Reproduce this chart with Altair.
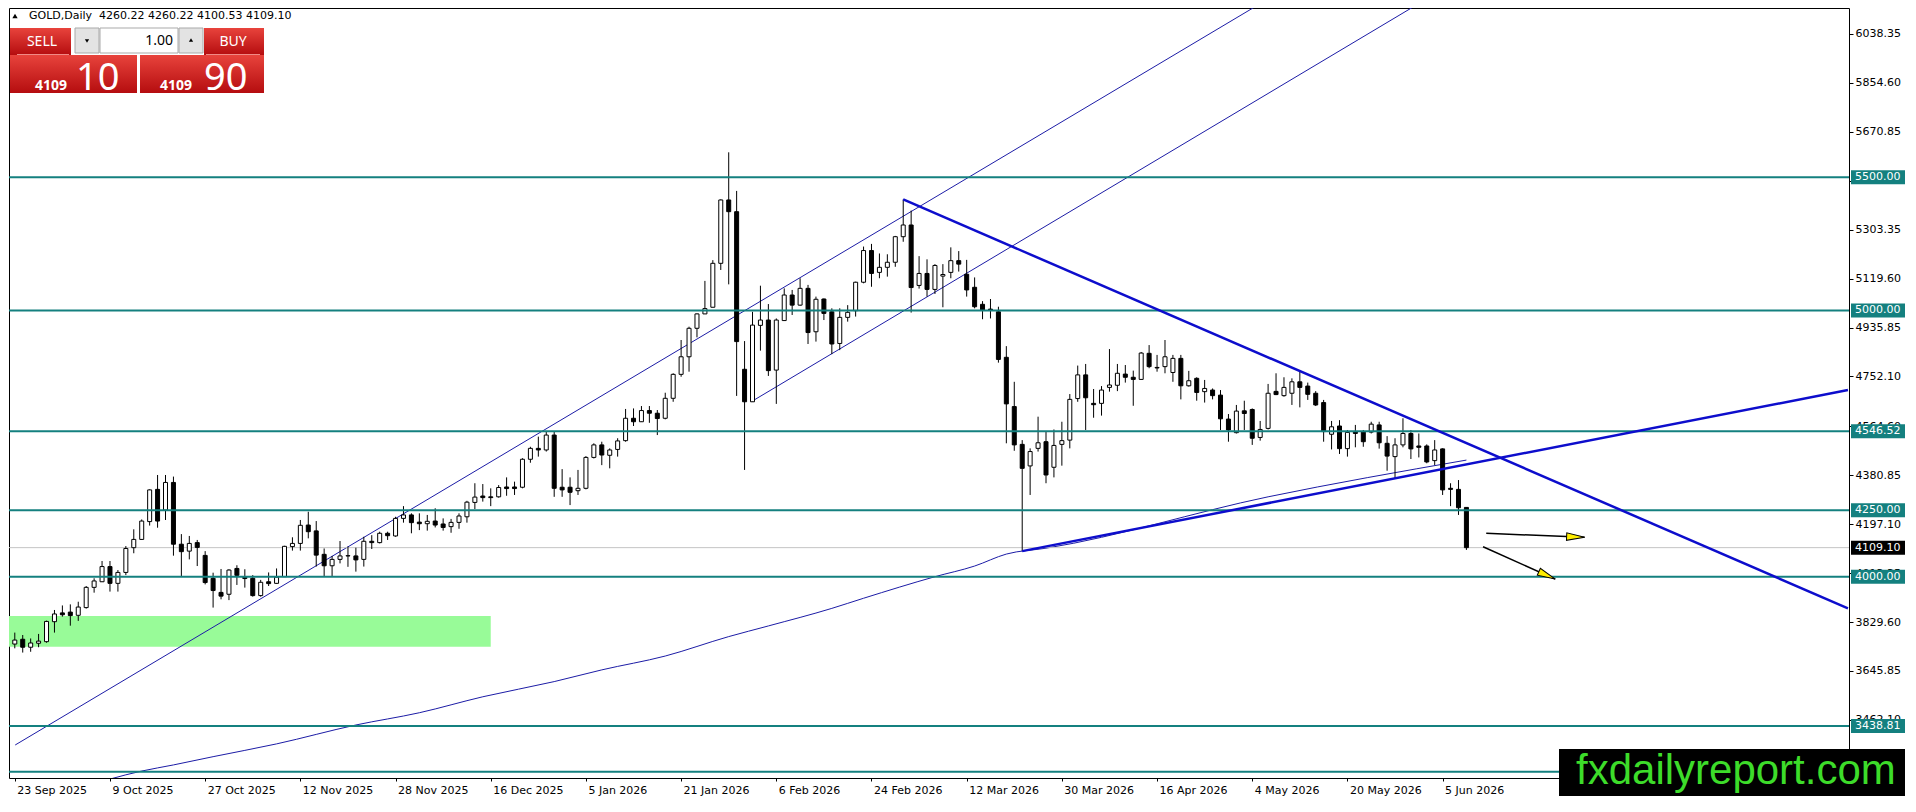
import math
import altair as alt
import pandas as pd

# ---------------- values ----------------
opens = [3747, 3765, 3735, 3750, 3756, 3831, 3864, 3867, 3855, 3884,
         3960, 3981, 4038, 3975, 4016, 4109, 4140, 4207, 4328, 4250,
         4354, 4122, 4096, 4128, 4080, 3994, 3941, 3934, 4031, 3998,
         3994, 3929, 3981, 3975, 4000, 4113, 4125, 4194, 4172, 4084,
         4041, 4065, 4078, 4078, 4065, 4133, 4128, 4163, 4153, 4219,
         4232, 4205, 4199, 4209, 4198, 4188, 4204, 4225, 4279, 4303,
         4300, 4300, 4337, 4337, 4336, 4441, 4482, 4476, 4532, 4336,
         4336, 4323, 4332, 4448, 4495, 4456, 4478, 4511, 4595, 4582,
         4624, 4614, 4595, 4670, 4760, 4826, 4933, 4987, 5012, 5177,
         5415, 5371, 4779, 4657, 4944, 4964, 4776, 4962, 5058, 5020,
         5083, 4920, 5043, 4995, 4876, 4974, 4999, 5106, 5225, 5143,
         5162, 5181, 5277, 5321, 5094, 5139, 5079, 5129, 5143, 5187,
         5136, 5087, 5023, 5005, 4995, 4824, 4639, 4497, 4416, 4482,
         4507, 4411, 4497, 4513, 4669, 4758, 4651, 4651, 4711, 4719,
         4761, 4749, 4741, 4839, 4786, 4789, 4767, 4820, 4717, 4745,
         4695, 4701, 4682, 4592, 4541, 4623, 4628, 4523, 4557, 4696,
         4680, 4689, 4732, 4716, 4689, 4654, 4535, 4566, 4481, 4545,
         4543, 4543, 4570, 4501, 4451, 4495, 4538, 4491, 4491, 4436,
         4480, 4332, 4328, 4260.22]
highs = [3790, 3781, 3768, 3785, 3835, 3875, 3892, 3896, 3906, 3965,
         3994, 4059, 4059, 4025, 4115, 4178, 4215, 4328, 4382, 4382,
         4376, 4160, 4153, 4138, 4096, 4015, 4029, 4028, 4043, 4028,
         4006, 3988, 4016, 4031, 4116, 4148, 4213, 4244, 4209, 4106,
         4078, 4134, 4113, 4109, 4150, 4156, 4169, 4169, 4225, 4265,
         4238, 4238, 4232, 4257, 4219, 4217, 4238, 4285, 4351, 4348,
         4332, 4344, 4373, 4357, 4445, 4488, 4526, 4545, 4545, 4404,
         4373, 4401, 4453, 4501, 4507, 4482, 4520, 4630, 4632, 4641,
         4641, 4626, 4691, 4764, 4889, 4939, 4989, 5111, 5189, 5417,
         5594, 5449, 4885, 4995, 5093, 5024, 4970, 5083, 5077, 5121,
         5096, 5052, 5045, 5008, 5008, 5020, 5108, 5240, 5250, 5214,
         5211, 5280, 5417, 5375, 5204, 5192, 5174, 5174, 5237, 5223,
         5190, 5124, 5035, 5043, 5014, 4866, 4732, 4513, 4482, 4601,
         4545, 4553, 4582, 4686, 4793, 4799, 4705, 4716, 4855, 4799,
         4795, 4774, 4844, 4870, 4833, 4889, 4833, 4833, 4773, 4749,
         4739, 4707, 4701, 4611, 4645, 4661, 4632, 4585, 4724, 4764,
         4749, 4745, 4770, 4729, 4697, 4664, 4585, 4588, 4551, 4570,
         4551, 4582, 4582, 4528, 4520, 4595, 4551, 4538, 4497, 4513,
         4482, 4351, 4363, 4260.22]
lows = [3731, 3715, 3718, 3735, 3752, 3790, 3850, 3816, 3834, 3880,
        3940, 3980, 3944, 3944, 4006, 4088, 4138, 4192, 4184, 4213,
        4079, 4000, 4065, 4040, 3971, 3884, 3915, 3912, 3969, 3959,
        3925, 3925, 3965, 3973, 4000, 4098, 4098, 4144, 4038, 4000,
        4002, 4050, 4037, 4019, 4038, 4104, 4125, 4138, 4150, 4203,
        4163, 4175, 4173, 4185, 4173, 4165, 4180, 4203, 4254, 4282,
        4265, 4297, 4304, 4307, 4332, 4428, 4451, 4470, 4300, 4300,
        4269, 4307, 4328, 4444, 4419, 4407, 4451, 4507, 4566, 4581,
        4578, 4532, 4591, 4657, 4751, 4770, 4899, 4987, 5012, 5152,
        5098, 4679, 4401, 4657, 4849, 4754, 4649, 4962, 4983, 5018,
        4874, 4883, 4964, 4836, 4851, 4958, 4977, 5102, 5089, 5121,
        5127, 5164, 5258, 4992, 5082, 5052, 5062, 5012, 5121, 5146,
        5052, 5008, 4967, 4970, 4804, 4501, 4473, 4096, 4307, 4470,
        4351, 4373, 4417, 4482, 4657, 4551, 4597, 4605, 4695, 4697,
        4729, 4642, 4739, 4783, 4770, 4764, 4732, 4666, 4714, 4661,
        4654, 4666, 4551, 4507, 4538, 4551, 4495, 4511, 4553, 4682,
        4676, 4645, 4636, 4664, 4641, 4507, 4478, 4461, 4451, 4486,
        4488, 4538, 4481, 4398, 4369, 4486, 4442, 4448, 4426, 4419,
        4307, 4265, 4232, 4100.53]
closes = [3762, 3735, 3751, 3758, 3832, 3860, 3857, 3854, 3886, 3960,
          3984, 4038, 3975, 4016, 4106, 4140, 4209, 4326, 4209, 4354,
          4122, 4094, 4125, 4110, 3978, 3948, 3927, 4025, 4005, 3993,
          3929, 3979, 3974, 3998, 4114, 4125, 4193, 4169, 4081, 4041,
          4065, 4078, 4079, 4063, 4133, 4128, 4163, 4154, 4219, 4232,
          4203, 4199, 4208, 4194, 4185, 4204, 4228, 4280, 4299, 4297,
          4297, 4335, 4331, 4331, 4441, 4482, 4476, 4532, 4332, 4326,
          4317, 4332, 4448, 4495, 4457, 4476, 4510, 4595, 4582, 4624,
          4614, 4594, 4670, 4760, 4826, 4933, 4987, 5007, 5177, 5415,
          5371, 4883, 4657, 4945, 4964, 4774, 4964, 5058, 5020, 5083,
          4917, 5042, 4989, 4874, 4974, 4993, 5106, 5225, 5139, 5162,
          5181, 5277, 5321, 5086, 5139, 5079, 5169, 5135, 5187, 5174,
          5077, 5014, 5002, 5002, 4816, 4649, 4495, 4407, 4470, 4503,
          4382, 4493, 4511, 4666, 4758, 4672, 4646, 4701, 4720, 4764,
          4749, 4741, 4840, 4789, 4784, 4826, 4820, 4717, 4736, 4692,
          4707, 4680, 4593, 4551, 4622, 4613, 4520, 4553, 4689, 4684,
          4711, 4732, 4711, 4685, 4645, 4545, 4563, 4481, 4542, 4538,
          4507, 4573, 4503, 4453, 4495, 4538, 4480, 4486, 4431, 4476,
          4326, 4328, 4259, 4109.10]
bar_index = list(range(len(closes)))

date_tick_bars = [0, 12, 24, 36, 48, 60, 72, 84, 96, 108, 120, 132, 144, 156, 168, 180]
date_tick_labels = ["23 Sep 2025", "9 Oct 2025", "27 Oct 2025", "12 Nov 2025",
                    "28 Nov 2025", "16 Dec 2025", "5 Jan 2026", "21 Jan 2026",
                    "6 Feb 2026", "24 Feb 2026", "12 Mar 2026", "30 Mar 2026",
                    "16 Apr 2026", "4 May 2026", "20 May 2026", "5 Jun 2026"]
price_ticks = [6038.35, 5854.60, 5670.85, 5487.10, 5303.35, 5119.60, 4935.85,
               4752.10, 4564.60, 4380.85, 4197.10, 4013.35, 3829.60, 3645.85, 3462.10]
hidden_tick = 5487.10  # its label sits fully behind the 5500.00 tag in the reference

level_prices = [5500.00, 5000.00, 4546.52, 4250.00, 4000.00, 3438.81, 3267.00]
# the last level's tag is hidden under the watermark in the reference
level_labels = ["5500.00", "5000.00", "4546.52", "4250.00", "4000.00", "3438.81", ""]
last_price = 4109.10
last_label = "4109.10"

ma_bars = [8, 16, 20, 25, 33, 43, 51, 59, 68, 74, 82, 90, 95, 103, 107, 116, 121, 125, 130, 158, 183]
ma_values = [3205, 3270, 3293, 3324, 3372, 3443, 3489, 3549, 3606, 3650, 3702, 3775,
             3815, 3881, 3919, 4000, 4040, 4085, 4107, 4300, 4438]

thin_from_bar = [0.05, 93]
thin_from_price = [3367.9, 4660.0]
thin_to_bar = [160, 180]
thin_to_price = [6205.4, 6206.0]
thick_from_bar = [112, 127]
thick_from_price = [5417.0, 4096.0]
thick_to_bar = [231.1, 231.1]
thick_to_price = [3881.3, 4701.2]

arrow_from_bar = [185.5, 185.1]
arrow_from_price = [4163.0, 4112.6]
arrow_to_bar = [197.9, 194.2]
arrow_to_price = [4148.0, 3991.0]

zone_from_bar, zone_to_bar = -1, 60
zone_low, zone_high = 3737.0, 3852.0

symbol_title = "GOLD,Daily"
header_ohlc = ["4260.22", "4260.22", "4100.53", "4109.10"]
lot_size = "1.00"
sell_big, sell_small = "4109", "10"
buy_big, buy_small = "4109", "90"
watermark = "fxdailyreport.com"

# ---------------- layout ----------------
W, H = 1840, 770
X_DOM = [-0.1, 230.6]
Y_DOM = [3243.9, 6136.0]
PX_PER_BAR = W / (X_DOM[1] - X_DOM[0])
PRICE_PER_PX = (Y_DOM[1] - Y_DOM[0]) / H
TEAL = "#14807f"
THIN_BLUE = "#1c1ca6"
THICK_BLUE = "#0d0dcc"

xs = alt.Scale(domain=X_DOM, nice=False, zero=False)
ys = alt.Scale(domain=Y_DOM, nice=False, zero=False)

label_js = "[" + ",".join("'" + s + "'" for s in date_tick_labels) + "][round(datum.value/12)]"
x_axis = alt.Axis(orient="bottom", values=date_tick_bars, labelExpr=label_js, title=None,
                  grid=False, domain=False, tickSize=3, tickColor="black",
                  labelColor="black", labelFont="DejaVu Sans", labelFontSize=11,
                  labelAlign="left", labelBaseline="top", labelPadding=3, labelOffset=2,
                  labelFlush=False, labelOverlap=False)
y_axis = alt.Axis(orient="right", values=price_ticks, title=None,
                  labelExpr="abs(datum.value - %s) < 0.01 ? '' : format(datum.value, '.2f')" % hidden_tick,
                  grid=False, domain=False, tickSize=4, tickColor="black",
                  labelColor="black", labelFont="DejaVu Sans", labelFontSize=11,
                  labelPadding=2, labelOverlap=False, labelFlush=False)

candles = pd.DataFrame({"bar": bar_index, "open": opens, "high": highs,
                        "low": lows, "close": closes})

X = lambda f: alt.X(f, scale=xs, axis=x_axis)
Y = lambda f: alt.Y(f, scale=ys, axis=y_axis)

zone = alt.Chart(pd.DataFrame({"a": [zone_from_bar], "b": [zone_to_bar],
                               "lo": [zone_low], "hi": [zone_high]})).mark_rect(
    color="#98fb98", clip=True).encode(x=X("a:Q"), x2="b:Q", y=Y("lo:Q"), y2="hi:Q")

ma = alt.Chart(pd.DataFrame({"bar": ma_bars, "ma": ma_values})).mark_line(
    color=THIN_BLUE, strokeWidth=1, clip=True, interpolate="monotone").encode(
    x=X("bar:Q"), y=Y("ma:Q"))

thin = alt.Chart(pd.DataFrame({"a": thin_from_bar, "pa": thin_from_price,
                               "b": thin_to_bar, "pb": thin_to_price})).mark_rule(
    color=THIN_BLUE, strokeWidth=1, clip=True).encode(
    x=X("a:Q"), x2="b:Q", y=Y("pa:Q"), y2="pb:Q")

last_line = alt.Chart(pd.DataFrame({"p": [last_price]})).mark_rule(
    color="#c4c4c4", strokeWidth=1).encode(y=Y("p:Q"))

wicks = alt.Chart(candles).mark_rule(color="black", strokeWidth=1, clip=True).encode(
    x=X("bar:Q"), y=Y("low:Q"), y2="high:Q")

bodies = alt.Chart(candles).mark_bar(size=4, stroke="black", strokeWidth=1, clip=True).encode(
    x=X("bar:Q"), y=Y("open:Q"), y2="close:Q",
    fill=alt.condition("datum.close >= datum.open", alt.value("white"), alt.value("black")))

levels_df = pd.DataFrame({"p": level_prices, "lab": level_labels})
levels_df["lo"] = levels_df["p"] - 7 * PRICE_PER_PX
levels_df["hi"] = levels_df["p"] + 7 * PRICE_PER_PX
level_lines = alt.Chart(levels_df).mark_rule(color=TEAL, strokeWidth=2).encode(y=Y("p:Q"))

thick = alt.Chart(pd.DataFrame({"a": thick_from_bar, "pa": thick_from_price,
                                "b": thick_to_bar, "pb": thick_to_price})).mark_rule(
    color=THICK_BLUE, strokeWidth=2.5, clip=True).encode(
    x=X("a:Q"), x2="b:Q", y=Y("pa:Q"), y2="pb:Q")

arr = pd.DataFrame({"a": arrow_from_bar, "pa": arrow_from_price,
                    "b": arrow_to_bar, "pb": arrow_to_price})
arr["ang"] = [math.degrees(math.atan2((pa - pb) / PRICE_PER_PX, (b - a) * PX_PER_BAR))
              for a, pa, b, pb in zip(arr["a"], arr["pa"], arr["b"], arr["pb"])]
shafts = alt.Chart(arr).mark_rule(color="black", strokeWidth=1.5).encode(
    x=X("a:Q"), x2="b:Q", y=Y("pa:Q"), y2="pb:Q")
heads = alt.Chart(arr).mark_point(shape="M0,0L-2,-0.42L-2,0.42Z", filled=True, fill="#ffee00",
                                  stroke="black", strokeWidth=1, size=324, opacity=1).encode(
    x=X("b:Q"), y=Y("pb:Q"), angle=alt.Angle("ang:Q", scale=None))

level_boxes = alt.Chart(levels_df).mark_rect(fill=TEAL).encode(
    x=alt.value(W + 2), x2=alt.value(W + 56), y=Y("lo:Q"), y2="hi:Q")
level_text = alt.Chart(levels_df).transform_filter("datum.lab != ''").mark_text(
    align="left", baseline="middle", color="white", font="DejaVu Sans", fontSize=11).encode(
    x=alt.value(W + 6), y=Y("p:Q"), text="lab:N")

last_df = pd.DataFrame({"p": [last_price], "lab": [last_label],
                        "lo": [last_price - 7 * PRICE_PER_PX], "hi": [last_price + 7 * PRICE_PER_PX]})
last_box = alt.Chart(last_df).mark_rect(fill="black").encode(
    x=alt.value(W + 2), x2=alt.value(W + 56), y=Y("lo:Q"), y2="hi:Q")
last_text = alt.Chart(last_df).mark_text(
    align="left", baseline="middle", color="white", font="DejaVu Sans", fontSize=11).encode(
    x=alt.value(W + 6), y=Y("p:Q"), text="lab:N")

# ---------------- trade panel and watermark ----------------
ONE = pd.DataFrame({"k": [0]})


def rect(x0, x1, y0, y1, **mk):
    return alt.Chart(ONE).mark_rect(**mk).encode(
        x=alt.value(x0), x2=alt.value(x1), y=alt.value(y0), y2=alt.value(y1))


def text(s, x, y, **mk):
    return alt.Chart(pd.DataFrame({"s": [s]})).mark_text(**mk).encode(
        x=alt.value(x), y=alt.value(y), text="s:N")


def glyph(shape, x, y, size):
    return alt.Chart(ONE).mark_point(shape=shape, filled=True, color="black",
                                     size=size, opacity=1).encode(x=alt.value(x), y=alt.value(y))


red = alt.Gradient(gradient="linear",
                   stops=[alt.GradientStop(color="#e8433c", offset=0),
                          alt.GradientStop(color="#b50d0f", offset=1)],
                   x1=0, x2=0, y1=0, y2=1)
white_txt = dict(color="white", font="Noto Sans")
panel = [
    glyph("triangle-up", 6, 8, 28),
    text(symbol_title + "\u00a0\u00a0" + " ".join(header_ohlc), 20, 8,
         align="left", baseline="middle", font="DejaVu Sans", fontSize=11, color="black"),
    rect(1, 62, 20, 47, fill=red),
    rect(195, 255, 20, 47, fill=red),
    rect(1, 128, 47, 85, fill=red),
    rect(131, 255, 47, 85, fill=red),
    rect(8, 60, 46, 47, fill="#f08a86"),
    rect(197, 251, 46, 47, fill="#f08a86"),
    rect(66, 90, 20, 45, fill="#e3e3e3", stroke="#a9a9a9", strokeWidth=1),
    rect(91, 169, 20, 45, fill="white", stroke="#a9a9a9", strokeWidth=1),
    rect(170, 194, 20, 45, fill="#e3e3e3", stroke="#a9a9a9", strokeWidth=1),
    glyph("triangle-down", 78, 33, 18),
    glyph("triangle-up", 182, 32, 18),
    text("SELL", 33, 34, align="center", baseline="middle", fontSize=14, **white_txt),
    text("BUY", 224, 34, align="center", baseline="middle", fontSize=14, **white_txt),
    text(lot_size, 164, 33, align="right", baseline="middle", fontSize=14,
         color="black", font="Noto Sans"),
    text(sell_big, 26, 82, align="left", baseline="alphabetic", fontSize=14,
         fontWeight="bold", **white_txt),
    text(sell_small, 67, 82, align="left", baseline="alphabetic", fontSize=38, **white_txt),
    text(buy_big, 151, 82, align="left", baseline="alphabetic", fontSize=14,
         fontWeight="bold", **white_txt),
    text(buy_small, 195, 82, align="left", baseline="alphabetic", fontSize=38, **white_txt),
]

wm = [
    rect(1550, 1896, 741, 788, fill="black"),
    text(watermark, 1567, 776, align="left", baseline="alphabetic", fontSize=42,
         font="Liberation Sans", color="#3ddc2a"),
]

chart = alt.layer(
    zone, ma, thin, last_line, wicks, bodies, level_lines, thick, shafts, heads,
    level_boxes, level_text, last_box, last_text, *panel, *wm
).properties(width=W, height=H, padding=0, background="white").configure_view(
    stroke="black", strokeWidth=1)

chart.save("out.html", embed_options={"renderer": "svg", "actions": False})
